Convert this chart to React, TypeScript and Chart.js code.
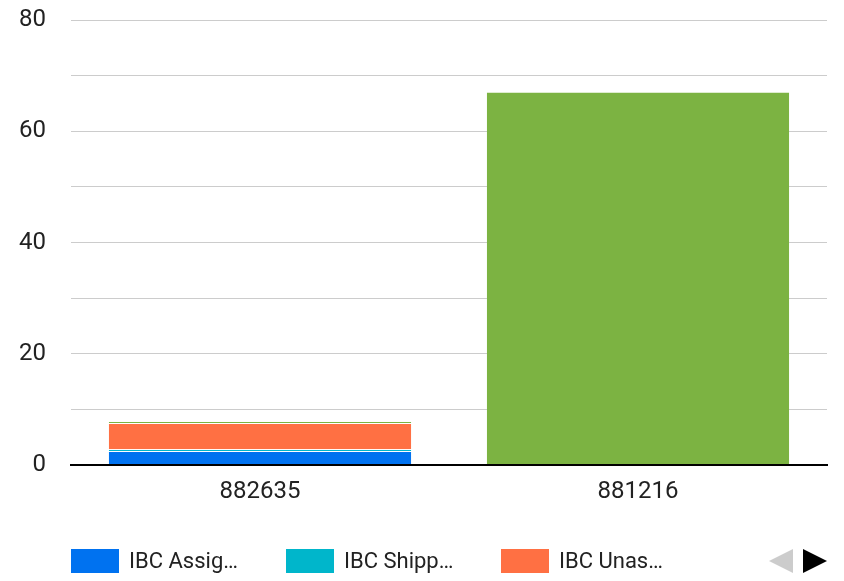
import React, { useEffect, useRef } from "react";
import { Chart, registerables } from "chart.js";

Chart.register(...registerables);

const categories = ["882635", "881216"];
const seriesNames = ["IBC Assigned", "IBC Shipped", "IBC Unassigned", "IBC Received"];
const legendLabels = ["IBC Assig…", "IBC Shipp…", "IBC Unas…"];
const seriesColors = ["#0072f0", "#00b6cb", "#ff7043", "#7cb342"];
const assignedValues = [2.5, 0];
const shippedValues = [0.35, 0];
const unassignedValues = [4.7, 0];
const receivedValues = [0.35, 67.1];

const FONT = "Roboto, 'Noto Sans', sans-serif";

const legendPlugin = {
  id: "pagedLegend",
  afterDraw(chart: any) {
    const ctx = chart.ctx as CanvasRenderingContext2D;
    const left = chart.chartArea.left;
    const cy = 561;
    ctx.save();
    ctx.font = `22px ${FONT}`;
    ctx.textBaseline = "alphabetic";
    legendLabels.forEach((label, i) => {
      const x = left + i * 215;
      ctx.fillStyle = seriesColors[i];
      ctx.fillRect(x, cy - 12, 48, 24);
      ctx.fillStyle = "#222";
      ctx.fillText(label, x + 58, cy + 7);
    });
    // pagination arrows
    const r = chart.chartArea.right;
    ctx.fillStyle = "#cccccc";
    ctx.beginPath();
    ctx.moveTo(r - 58, cy);
    ctx.lineTo(r - 34, cy - 12);
    ctx.lineTo(r - 34, cy + 12);
    ctx.closePath();
    ctx.fill();
    ctx.fillStyle = "#000";
    ctx.beginPath();
    ctx.moveTo(r - 24, cy - 12);
    ctx.lineTo(r, cy);
    ctx.lineTo(r - 24, cy + 12);
    ctx.closePath();
    ctx.fill();
    ctx.restore();
  },
};

export default function App() {
  const ref = useRef<HTMLCanvasElement | null>(null);
  useEffect(() => {
    document.body.style.margin = "0";
    const canvas = ref.current;
    if (!canvas) return;
    const allValues = [assignedValues, shippedValues, unassignedValues, receivedValues];
    const chart = new Chart(canvas, {
      type: "bar",
      data: {
        labels: categories,
        datasets: seriesNames.map((name, i) => ({
          label: name,
          data: allValues[i],
          backgroundColor: seriesColors[i],
          borderColor: "#ffffff",
          borderWidth: { top: 1, left: 0, right: 0, bottom: 0 },
          borderSkipped: false,
          categoryPercentage: 0.8,
          barPercentage: 1,
          inflateAmount: 0,
        })),
      },
      options: {
        responsive: false,
        animation: false,
        layout: { padding: { left: 0, right: 17, top: 20, bottom: 66 } },
        plugins: {
          legend: { display: false },
          tooltip: { enabled: false },
        },
        scales: {
          x: {
            stacked: true,
            grid: { display: false, drawTicks: false },
            border: { display: true, color: "#000", width: 2, z: 1 },
            ticks: {
              color: "#222",
              font: { family: FONT, size: 24 },
              padding: 13,
            },
            afterFit(scale: any) {
              scale.height = 50;
              scale.paddingLeft = 0;
              scale.paddingRight = 0;
            },
          },
          y: {
            stacked: true,
            min: 0,
            max: 80,
            grid: { color: "#cccccc", lineWidth: 1, drawTicks: false },
            border: { display: false },
            ticks: {
              stepSize: 10,
              color: "#222",
              font: { family: FONT, size: 24 },
              padding: 25,
              callback: (v: any) => (Number(v) % 20 === 0 ? String(v) : ""),
            },
            afterFit(scale: any) {
              scale.width = 71;
              scale.paddingTop = 0;
              scale.paddingBottom = 0;
            },
          },
        },
      },
      plugins: [legendPlugin],
    });
    return () => chart.destroy();
  }, []);
  return (
    <div style={{ width: 844, height: 581 }}>
      <canvas ref={ref} width={844} height={581} style={{ display: "block" }} />
    </div>
  );
}
